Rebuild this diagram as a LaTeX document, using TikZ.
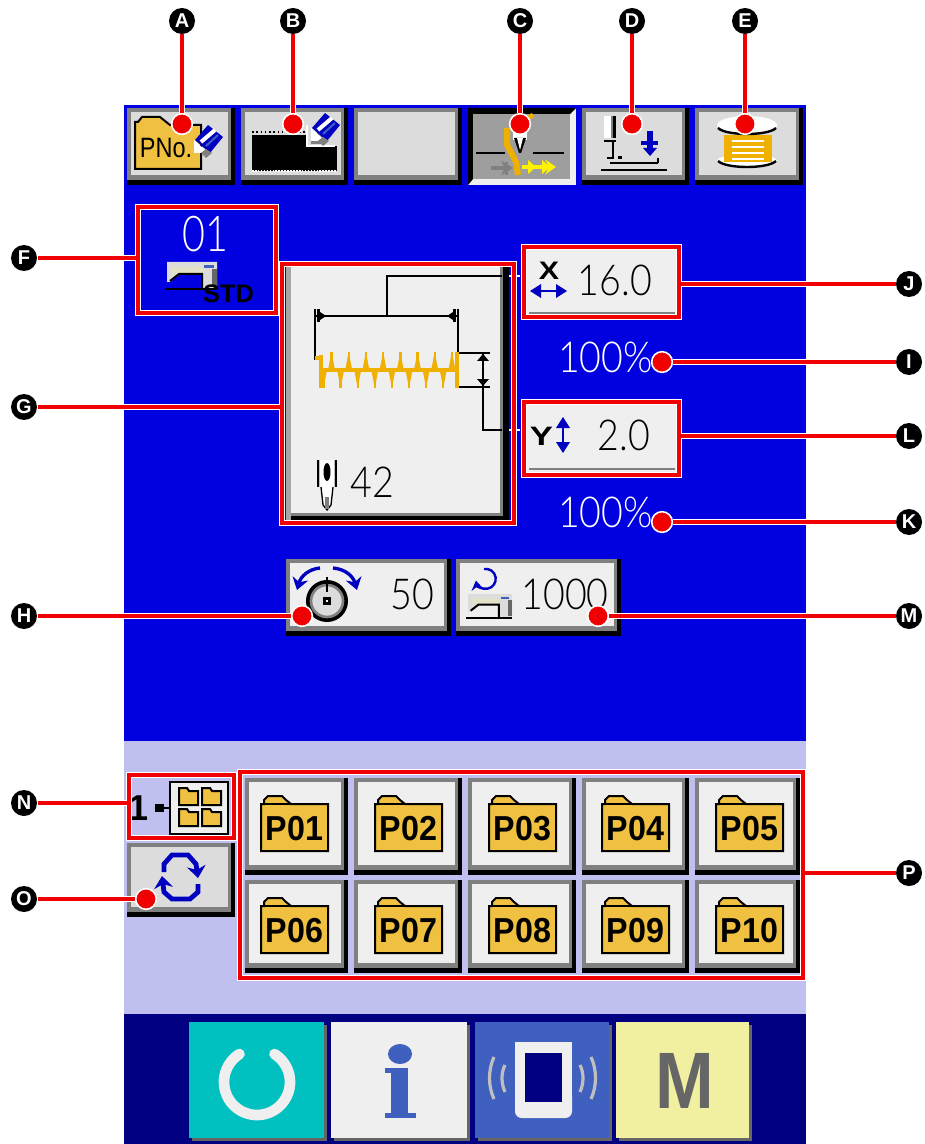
\documentclass[tikz,border=0pt]{standalone}
\usepackage{fontspec}
\usetikzlibrary{arrows.meta,fit}
\newfontfamily\numfont{Liberation Sans}
\newfontfamily\thinfont{Lato Light}
\definecolor{panelblue}{RGB}{0,0,224}
\definecolor{panelnavy}{RGB}{0,0,128}
\definecolor{panellav}{RGB}{192,192,240}
\definecolor{keyface}{RGB}{220,220,220}
\definecolor{keylight}{RGB}{239,239,239}
\definecolor{keybevel}{RGB}{128,128,128}
\definecolor{calloutred}{RGB}{240,0,0}
\definecolor{foldercol}{RGB}{240,192,64}
\definecolor{threadcol}{RGB}{240,176,0}
\definecolor{iconblue}{RGB}{0,0,192}
\definecolor{softblue}{RGB}{64,96,192}
\definecolor{keyteal}{RGB}{0,192,192}
\definecolor{keyyellow}{RGB}{240,240,160}
\definecolor{machinecream}{RGB}{226,226,200}
\tikzset{every picture/.style={line width=0.75pt}}
\tikzset{
  lettermark/.style={circle,fill=black,text=white,inner sep=0pt,minimum size=19.5pt,font=\numfont\bfseries\fontsize{15}{15}\selectfont},
  reddot/.style={circle,fill=calloutred,draw=white,line width=1.2pt,inner sep=0pt,minimum size=15.5pt},
  redframe/.style={draw=calloutred,line width=3pt,inner sep=0pt,preaction={draw=white,line width=4.6pt}},
  callout/.style={draw=calloutred,line width=3pt,preaction={draw=white,line width=4.6pt}},
  keynum/.style={font=\thinfont\fontsize{32}{32}\selectfont,inner sep=0pt,xscale=0.88},
  foldertext/.style={font=\numfont\bfseries\fontsize{26}{26}\selectfont,inner sep=0pt,xscale=0.93},
  iconline/.style={draw=black,line width=1.5pt},
  blueshaft/.style={draw=iconblue,line width=1.5pt},
  bluesingle/.style={draw=iconblue,line width=3pt,-{Stealth[length=9pt,width=12pt]}},
}
% raised key: x1 y1 x2 y2 face
\newcommand{\keybtn}[5]{%
  \fill[black] (#1,#2) rectangle (#3,#4);
  \fill[keybevel] (#1,#2) rectangle (#3-4,#4-5);
  \fill[#5] (#1+4,#2+4) rectangle (#3-7,#4-10);
}
% folder key label: x y text
\newcommand{\filefolder}[3]{%
  \begin{scope}[shift={(#1,#2)}]
    \draw[iconline,fill=foldercol] (1,56) -- (1,9) -- (4,9) -- (4,5) -- (8,1) -- (22,1) -- (26,5) -- (31,9) -- (68,9) -- (68,56) -- cycle;
    \draw[iconline] (1,9) -- (68,9);
    \node[foldertext] at (34.5,34) {#3};
  \end{scope}%
}
% small folder in the list key
\newcommand{\minifolder}[2]{%
  \begin{scope}[shift={(#1,#2)}]
    \draw[iconline,fill=foldercol] (0,17) -- (0,0) -- (8,0) -- (10,3) -- (19,3) -- (19,17) -- cycle;
  \end{scope}%
}
% pencil centred on x y
\newcommand{\pencilicon}[2]{%
  \begin{scope}[shift={(#1,#2)}]
    \fill[iconblue] (-1,-15) -- (14,-3) -- (1,13) -- (-14,0) -- cycle;
    \draw[white,line width=3pt] (-8,2) -- (6,-10);
    \draw[softblue,line width=1.5pt] (-3,6) -- (9,-5);
    \fill[white] (-15,0) -- (-4,10) -- (-8,13) -- (-15,13) -- cycle;
    \fill[keybevel] (-8,13) -- (-3,9) -- (3,13) -- (-3,18) -- cycle;
  \end{scope}%
}
% sewing machine body, x y scale
\newcommand{\machineicon}[3]{%
  \begin{scope}[shift={(#1,#2)},scale=#3]
    \fill[keyface] (0,0) -- (50,0) -- (50,27) -- (34,27) -- (34,13) -- (12,13) -- (3,20) -- (0,20) -- cycle;
    \fill[machinecream] (5,5) -- (36,5) -- (36,11) -- (12,11) -- (5,14) -- cycle;
    \fill[softblue] (37,3) rectangle (47,6);
    \fill[black!60] (45,7) rectangle (50,25);
    \draw[iconline] (3,19) -- (12,12) -- (35,12) -- (35,27);
    \draw[iconline] (-2,27) -- (50,27);
  \end{scope}%
}

\begin{document}
\begin{tikzpicture}[x=0.75pt,y=0.75pt,yscale=-1,xscale=1]
	\useasboundingbox (0,0) rectangle (924,1144);
	\fill[white] (0,0) rectangle (924,1144);

	% panel
	\fill[panelblue] (124,105) rectangle (806,741);
	\fill[panellav] (124,741) rectangle (806,1014);
	\fill[panelnavy] (124,1014) rectangle (806,1144);

	% top keys
	\keybtn{127}{108}{235}{185}{keyface}
	\keybtn{241}{108}{348}{185}{keyface}
	\keybtn{354}{108}{462}{185}{keyface}
	\keybtn{582}{108}{689}{185}{keyface}
	\keybtn{695}{108}{803}{185}{keyface}
	% pressed key
	\fill[keylight] (468,108) rectangle (576,185);
	\fill[black] (468,108) -- (576,108) -- (570,114) -- (473,114) -- (473,179) -- (468,185) -- cycle;
	\fill[black!38] (473,114) rectangle (570,179);

	% PNo icon
	\draw[iconline,fill=foldercol] (135,169) -- (135,122) -- (138,122) -- (142,117) -- (160,117) -- (170,125) -- (201,125) -- (201,169) -- cycle;
	\node[font=\numfont\fontsize{21}{21}\selectfont,inner sep=0pt,xscale=0.84] at (166,148) {PNo.};
	\pencilicon{209}{140}

	% data icon
	\fill[black] (252,135) rectangle (337,171);
	\draw[black,dotted,line width=1.2pt] (252,132) -- (306,132);
	\draw[white,densely dotted,line width=1.2pt] (252,171) -- (337,171);
	\fill[keyface] (306,124) rectangle (337,146);
	\draw[white,line width=1.2pt] (307,125) -- (307,146) -- (335,146);
	\fill[keybevel] (311,133) rectangle (322,144);
	\pencilicon{326}{128}

	% thread icon
	\draw[black,line width=2pt] (476,153) -- (505,153);
	\draw[black,line width=2pt] (533,153) -- (564,153);
	\draw[keybevel,line width=2.5pt,-{Stealth[length=9pt,width=11pt]}] (491,168) -- (513,168);
	\fill[keybevel] (505,162) rectangle (508,175);
	\draw[threadcol,line width=3.5pt] (533,115) -- (528,118);
	\draw[threadcol,line width=4.5pt] (507,128) -- (507,145) -- (516,162) -- (518,175);
	\draw[yellow,line width=3pt,-{Stealth[length=8pt,width=11pt]}] (522,167) -- (556,167);
	\fill[yellow] (528,160) -- (536,167) -- (528,174) -- cycle;
	\fill[yellow] (542,160) -- (550,167) -- (542,174) -- cycle;
	\fill[white] (513,132) rectangle (527,140);
	\fill[black] (514,138) -- (526,138) -- (521,153) -- (519,153) -- cycle;
	\fill[white] (517,138) -- (523,138) -- (520,150) -- cycle;

	% presser foot icon
	\fill[white] (604,116) rectangle (611,138);
	\fill[keybevel] (611,116) rectangle (613,138);
	\fill[black] (613,116) rectangle (616,138);
	\draw[black,line width=1.5pt] (604,141) -- (616,141);
	\draw[black,line width=2pt] (613,141) -- (613,158) -- (607,158);
	\fill[black] (618,156) rectangle (622,159);
	\draw[iconline] (610,163) -- (658,163);
	\draw[black,line width=2pt] (658,158) -- (658,163);
	\draw[black,line width=2.2pt] (601,170) -- (667,170);
	\draw[iconblue,line width=4pt] (650,131) -- (650,148);
	\fill[iconblue] (641,141) rectangle (658,145);
	\fill[iconblue] (643,148) -- (657,148) -- (650,156) -- cycle;

	% bobbin icon
	\fill[white] (747,161) ellipse (30 and 7);
	\draw[black,line width=1.8pt] (718,161) .. controls (726,169) and (768,169) .. (776,161);
	\fill[threadcol] (724,135) rectangle (772,162);
	\foreach \row in {141,147,153,159}
		\draw[white,line width=1.2pt] (732,\row) -- (764,\row);
	\fill[white] (747,125) ellipse (30 and 9);
	\draw[black,line width=1.8pt] (718,128) .. controls (726,136) and (768,136) .. (776,128);

	% pattern number
	\node[keynum,text=white,xscale=0.91,font=\thinfont\fontsize{37}{37}\selectfont] at (205,234.5) {01};
	\machineicon{167}{262}{1}
	\node[inner sep=0pt,font=\numfont\bfseries\fontsize{19}{19}\selectfont] at (228.5,294) {STD};

	% shape key
	\fill[keylight] (286,267) rectangle (509,520);
	\fill[black!35] (286,267) rectangle (291,520);
	\fill[keybevel] (500,267) rectangle (503,516);
	\fill[keybevel] (291,513) rectangle (500,516);
	\fill[black] (503,267) rectangle (509,520);
	\fill[black] (291,516) rectangle (509,520);
	% dimensions
	\draw[iconline] (502,276) -- (387,276) -- (387,316);
	\draw[iconline] (315,316) -- (458,316);
	\draw[iconline] (315,309) -- (315,360);
	\draw[iconline] (458,309) -- (458,352);
	\fill[black] (317,309) rectangle (320,322);
	\fill[black] (320,312) -- (326,316) -- (320,320) -- cycle;
	\fill[black] (453,309) rectangle (456,322);
	\fill[black] (453,312) -- (447,316) -- (453,320) -- cycle;
	\draw[iconline] (458,353) -- (490,353);
	\draw[iconline] (458,387) -- (490,387);
	\draw[iconline] (483,353) -- (483,430) -- (502,430);
	\fill[black] (483,354) -- (489,361) -- (477,361) -- cycle;
	\fill[black] (483,386) -- (489,379) -- (477,379) -- cycle;
	\draw[white,line width=1pt] (509,276) -- (520,276);
	\draw[white,line width=1pt] (509,430) -- (520,430);
	% stitches
	\draw[threadcol,line width=2.5pt] (320,370) -- (458,370);
	\draw[threadcol,line width=2.5pt] (321,355) -- (321,388);
	\draw[threadcol,line width=3pt] (457,352) -- (457,388);
	\fill[threadcol] (315,356) rectangle (320,360);
	\foreach \k in {0,...,7} {
		\fill[threadcol] ({328+17.2*\k},370) -- ({331.5+17.2*\k},352) -- ({335+17.2*\k},370) -- cycle;
		\fill[threadcol] ({320+17.1*\k},370) -- ({323.5+17.1*\k},388) -- ({327+17.1*\k},370) -- cycle;
		\draw[threadcol,line width=1.8pt] ({331.5+17.2*\k},352) -- ({331.5+17.2*\k},370);
		\draw[threadcol,line width=1.8pt] ({323.5+17.1*\k},370) -- ({323.5+17.1*\k},388);
	}
	% needle
	\fill[black!25] (317,460) rectangle (337,487);
	\fill[white] (320,460) rectangle (334,487);
	\fill[black] (317,460) rectangle (319,487);
	\fill[black] (335,460) rectangle (337,487);
	\fill[black] (327,472) ellipse (3.5 and 9);
	\fill[white] (321,487) -- (333,487) -- (331,505) -- (323,505) -- cycle;
	\draw[black,line width=1pt] (321,487) -- (323,505) -- (327,510) -- (331,505) -- (333,487);
	\fill[keybevel] (325,497) rectangle (329,509);
	\node[keynum] at (372,482) {42};

	% X key
	\fill[keylight] (526,249) rectangle (678,316);
	\fill[keybevel] (529,312) rectangle (675,314);
	\node[inner sep=0pt,xscale=1.2,font=\numfont\bfseries\fontsize{19}{19}\selectfont] at (549,271) {X};
	\draw[blueshaft] (536,291) -- (561,291);
	\fill[iconblue] (530,291) -- (541,284) -- (541,298) -- cycle;
	\fill[iconblue] (567,291) -- (556,284) -- (556,298) -- cycle;
	\node[keynum] at (615,280) {16.0};
	\node[keynum,text=white] at (605.5,357) {100\%};

	% Y key
	\fill[keylight] (526,404) rectangle (678,473);
	\fill[keybevel] (529,468) rectangle (675,470);
	\node[inner sep=0pt,xscale=1.3,font=\numfont\bfseries\fontsize{20}{20}\selectfont] at (541.5,436) {Y};
	\draw[blueshaft] (563,423) -- (563,447);
	\fill[iconblue] (563,417) -- (570,428) -- (556,428) -- cycle;
	\fill[iconblue] (563,453) -- (570,442) -- (556,442) -- cycle;
	\node[keynum] at (624,435) {2.0};
	\node[keynum,text=white] at (605.5,512) {100\%};

	% tension key
	\keybtn{286}{559}{451}{636}{keylight}
	\draw[black,line width=3pt,fill=keyface] (327,601) circle (19);
	\draw[keybevel,line width=2pt] (327,601) circle (16);
	\draw[black,line width=1.5pt] (327,577) -- (327,592);
	\draw[black,line width=1.5pt] (319,583) -- (335,583);
	\fill[black] (323,597) rectangle (331,605);
	\fill[white] (326,600) rectangle (328,602);
	\draw[iconblue,line width=2.5pt,-{Stealth[length=9pt,width=12pt]}] (320,568) .. controls (309,569) and (301,576) .. (297,590);
	\draw[iconblue,line width=2.5pt,-{Stealth[length=9pt,width=12pt]}] (333,568) .. controls (345,569) and (353,576) .. (357,590);
	\node[keynum] at (412.5,594) {50};

	% counter key
	\keybtn{456}{559}{621}{636}{keylight}
	\draw[iconblue,line width=1.8pt,-{Stealth[length=7pt,width=9pt]}] (484,569) arc (-100:170:10);
	\machineicon{468}{594}{0.88}
	\node[keynum] at (565,594) {1000};

	% folder keys
	\keybtn{245}{778}{348}{875}{keylight}
	\keybtn{354}{778}{462}{875}{keylight}
	\keybtn{468}{778}{576}{875}{keylight}
	\keybtn{582}{778}{689}{875}{keylight}
	\keybtn{695}{778}{800}{875}{keylight}
	\keybtn{245}{880}{348}{973}{keylight}
	\keybtn{354}{880}{462}{973}{keylight}
	\keybtn{468}{880}{576}{973}{keylight}
	\keybtn{582}{880}{689}{973}{keylight}
	\keybtn{695}{880}{800}{973}{keylight}
	\filefolder{260}{795}{P01}
	\filefolder{374}{795}{P02}
	\filefolder{488}{795}{P03}
	\filefolder{601}{795}{P04}
	\filefolder{715}{795}{P05}
	\filefolder{260}{897}{P06}
	\filefolder{374}{897}{P07}
	\filefolder{488}{897}{P08}
	\filefolder{601}{897}{P09}
	\filefolder{715}{897}{P10}

	% list key
	\node[inner sep=0pt,font=\numfont\bfseries\fontsize{27}{27}\selectfont] at (139,808) {1};
	\fill[black] (155,804) rectangle (164,812);
	\draw[black,line width=1pt] (164,808) -- (170,808);
	\draw[iconline,fill=keylight] (170,782) rectangle (228,834);
	\minifolder{179}{788}
	\minifolder{202}{788}
	\minifolder{179}{809}
	\minifolder{202}{809}

	% change key
	\keybtn{127}{843}{235}{917}{keyface}
	\draw[iconblue,line width=3.6pt,-{Stealth[length=9pt,width=14pt]}] (164,872) -- (164,864) -- (172,855) -- (188,855) -- (196,864) -- (198,878);
	\draw[iconblue,line width=3.6pt,-{Stealth[length=9pt,width=14pt]}] (198,884) -- (198,892) -- (190,899) -- (172,899) -- (164,892) -- (162,876);

	% bottom keys
	\fill[black!60] (192,1025) rectangle (327,1141);
	\fill[keyteal] (189,1022) rectangle (324,1138);
	\draw[keylight,line width=8pt,line cap=round] (257,1082) ++(-58:33) arc (-58:238:33);

	\fill[black!60] (334,1025) rectangle (470,1141);
	\fill[keylight] (331,1022) rectangle (467,1138);
	\fill[softblue] (400,1054) ellipse (12 and 10);
	\fill[softblue] (385,1068) rectangle (408,1073);
	\fill[softblue] (391,1068) rectangle (408,1113);
	\fill[softblue] (385,1113) rectangle (416,1118);

	\fill[black!60] (478,1025) rectangle (612,1141);
	\fill[softblue] (475,1022) rectangle (609,1138);
	\fill[keylight] (515,1042) rectangle (572,1100);
	\fill[keylight,rounded corners=5pt] (515,1090) rectangle (572,1118);
	\fill[panelnavy] (525,1053) rectangle (562,1102);
	\draw[black!25,line width=2.4pt] (505,1065) .. controls (501,1073) and (501,1083) .. (505,1092);
	\draw[black!25,line width=2.4pt] (494,1057) .. controls (488,1070) and (488,1086) .. (494,1099);
	\draw[black!25,line width=2.4pt] (580,1065) .. controls (584,1073) and (584,1083) .. (580,1092);
	\draw[black!25,line width=2.4pt] (591,1057) .. controls (597,1070) and (597,1086) .. (591,1099);

	\fill[black!60] (619,1025) rectangle (752,1141);
	\fill[keyyellow] (616,1022) rectangle (749,1138);
	\node[inner sep=0pt,xscale=0.88,text=black!60,font=\numfont\bfseries\fontsize{60}{60}\selectfont] at (685,1081) {M};

	% red frames
	\node[redframe,fit={(138,207) (276,313)}] (frameF) {};
	\node[redframe,fit={(282,264) (514,523)}] (frameG) {};
	\node[redframe,fit={(524,247) (679,317)}] (frameJ) {};
	\node[redframe,fit={(524,402) (679,475)}] (frameL) {};
	\node[redframe,fit={(129,775) (234,838)}] (frameN) {};
	\node[redframe,fit={(240,772) (803,978)}] (frameP) {};

	% red dots
	\node[reddot] (dotA) at (182,124) {};
	\node[reddot] (dotB) at (293,124) {};
	\node[reddot] (dotC) at (520,124) {};
	\node[reddot] (dotD) at (632,124) {};
	\node[reddot] (dotE) at (745,124) {};
	\node[reddot] (dotH) at (302,616) {};
	\node[reddot] (dotM) at (598,616) {};
	\node[reddot] (dotI) at (662,362) {};
	\node[reddot] (dotK) at (662,522) {};
	\node[reddot] (dotO) at (146,899) {};

	% letters
	\node[lettermark] (markA) at (182,21) {A};
	\node[lettermark] (markB) at (293,21) {B};
	\node[lettermark] (markC) at (520,21) {C};
	\node[lettermark] (markD) at (632,21) {D};
	\node[lettermark] (markE) at (745,21) {E};
	\node[lettermark] (markF) at (24,258) {F};
	\node[lettermark] (markG) at (24,407) {G};
	\node[lettermark] (markH) at (24,616) {H};
	\node[lettermark] (markN) at (24,803) {N};
	\node[lettermark] (markO) at (24,899) {O};
	\node[lettermark] (markJ) at (909,284) {J};
	\node[lettermark] (markI) at (909,362) {I};
	\node[lettermark] (markL) at (909,436) {L};
	\node[lettermark] (markK) at (909,522) {K};
	\node[lettermark] (markM) at (909,616) {M};
	\node[lettermark] (markP) at (909,873) {P};

	% connectors
	\draw[callout] (markA) -- (dotA);
	\draw[callout] (markB) -- (dotB);
	\draw[callout] (markC) -- (dotC);
	\draw[callout] (markD) -- (dotD);
	\draw[callout] (markE) -- (dotE);
	\draw[callout] (markH) -- (dotH);
	\draw[callout] (markM) -- (dotM);
	\draw[callout] (markI) -- (dotI);
	\draw[callout] (markK) -- (dotK);
	\draw[callout] (markO) -- (dotO);
	\draw[callout] (markF) -- (markF -| frameF.west);
	\draw[callout] (markG) -- (markG -| frameG.west);
	\draw[callout] (markN) -- (markN -| frameN.west);
	\draw[callout] (markJ) -- (markJ -| frameJ.east);
	\draw[callout] (markL) -- (markL -| frameL.east);
	\draw[callout] (markP) -- (markP -| frameP.east);

\end{tikzpicture}
\end{document}
